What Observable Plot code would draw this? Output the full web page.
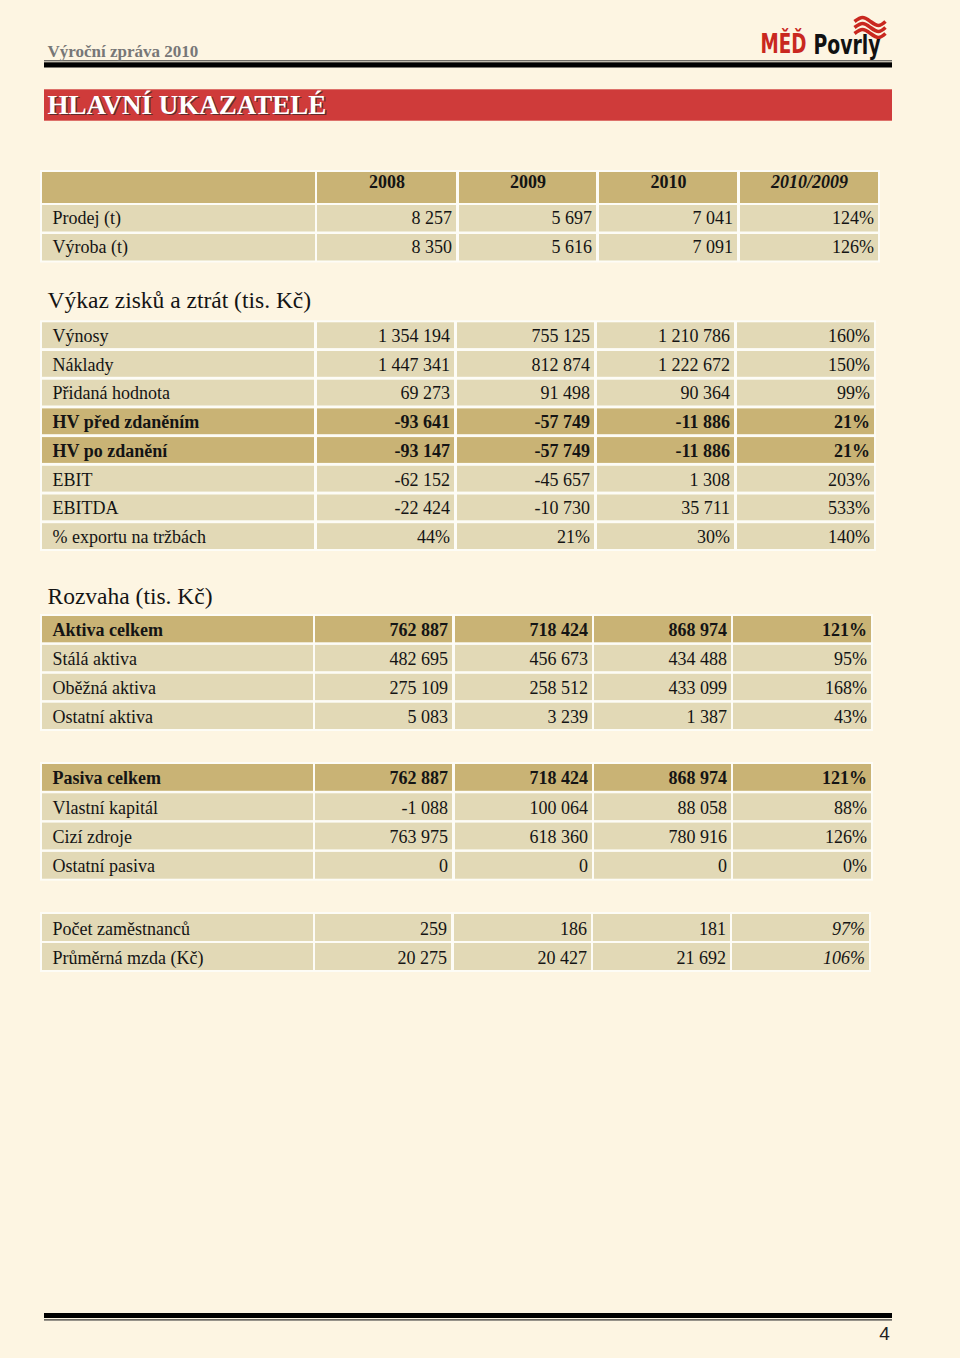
<!DOCTYPE html>
<html><head><meta charset="utf-8">
<script src="https://cdn.jsdelivr.net/npm/d3@7"></script>
<script src="https://cdn.jsdelivr.net/npm/@observablehq/plot@0.6"></script>
<style>
html,body{margin:0;padding:0;background:#fdf5e2;}
#chart svg{display:block;}
</style></head><body><div id="chart"></div>
<script>
// ---------- DATA ----------
const pageHeader = "Výroční zpráva 2010";
const pageTitle = "HLAVNÍ UKAZATELÉ";
const logoRed = "MĚĎ";
const logoBlack = "Povrly";
const pageNumber = "4";
const years = ["2008", "2009", "2010", "2010/2009"];

const prodLabels = ["Prodej (t)", "Výroba (t)"];
const prod2008 = [8257, 8350];
const prod2009 = [5697, 5616];
const prod2010 = [7041, 7091];
const prodRatio = [124, 126];

const pnlTitle = "Výkaz zisků a ztrát (tis. Kč)";
const pnlLabels = ["Výnosy", "Náklady", "Přidaná hodnota", "HV před zdaněním", "HV po zdanění", "EBIT", "EBITDA"];
const pnl2008 = [1354194, 1447341, 69273, -93641, -93147, -62152, -22424];
const pnl2009 = [755125, 812874, 91498, -57749, -57749, -45657, -10730];
const pnl2010 = [1210786, 1222672, 90364, -11886, -11886, 1308, 35711];
const pnlRatio = [160, 150, 99, 21, 21, 203, 533];
const pnlBold = ["HV před zdaněním", "HV po zdanění"];
const exportLabel = "% exportu na tržbách";
const exportShare = [44, 21, 30, 140];

const bsTitle = "Rozvaha (tis. Kč)";
const assetLabels = ["Aktiva celkem", "Stálá aktiva", "Oběžná aktiva", "Ostatní aktiva"];
const asset2008 = [762887, 482695, 275109, 5083];
const asset2009 = [718424, 456673, 258512, 3239];
const asset2010 = [868974, 434488, 433099, 1387];
const assetRatio = [121, 95, 168, 43];

const liabLabels = ["Pasiva celkem", "Vlastní kapitál", "Cizí zdroje", "Ostatní pasiva"];
const liab2008 = [762887, -1088, 763975, 0];
const liab2009 = [718424, 100064, 618360, 0];
const liab2010 = [868974, 88058, 780916, 0];
const liabRatio = [121, 88, 126, 0];

const staffLabels = ["Počet zaměstnanců", "Průměrná mzda (Kč)"];
const staff2008 = [259, 20275];
const staff2009 = [186, 20427];
const staff2010 = [181, 21692];
const staffRatio = [97, 106];

// ---------- LAYOUT / STYLE ----------
const C = {page: "#fdf5e2", tan: "#c9b375", row: "#e2d9b6", red: "#cf3b3a", logoRed: "#c9281f", ink: "#141414"};
const SERIF = "Liberation Serif, Times New Roman, serif";
const loc = d3.formatLocale({decimal: ",", thousands: " ", grouping: [3], currency: ["", ""], minus: "-"});
const num = loc.format(",d");
const pct = v => `${v}%`;

const cells = [];
const texts = [];
const tableBgs = [];

function table(spec) {
  const {cols, top, pitch, h, rows, header, baseOff} = spec;
  if (header) {
    const y1 = header.top, y2 = header.top + header.h;
    cols.forEach((c, j) => {
      cells.push({x1: c[0], x2: c[1], y1, y2, fill: C.tan});
      if (j > 0) texts.push({x: (c[0] + c[1]) / 2, y: y1 + header.base, t: years[j - 1], k: j === 4 ? "bim" : "bm"});
    });
  }
  rows.forEach((r, ri) => {
    const y1 = top + ri * pitch, y2 = y1 + h;
    cols.forEach((c, j) => {
      cells.push({x1: c[0], x2: c[1], y1, y2, fill: r.bold ? C.tan : C.row});
      const w = r.bold ? "b" : "r";
      if (j === 0) texts.push({x: 52, y: y1 + baseOff, t: r.label, k: w + "s"});
      else texts.push({x: c[1] - 4.5, y: y1 + baseOff, t: r.values[j - 1], k: (j === 4 && r.italicLast ? "i" : w) + "e"});
    });
  });
  const lastBottom = top + (rows.length - 1) * pitch + h;
  tableBgs.push({x1: cols[0][0] - 2, x2: cols[4][1] + 2, y1: (header ? header.top : top) - 2, y2: lastBottom + 2});
}

const rowOf = (labels, a, b, c, r, opts = {}) => labels.map((l, i) => ({
  label: l,
  values: [num(a[i]), num(b[i]), num(c[i]), pct(r[i])],
  bold: (opts.bold || []).includes(l),
  italicLast: !!opts.italicLast
}));

table({
  cols: [[42, 315], [317, 456], [459, 596], [599, 737], [740, 878]],
  header: {top: 172, h: 31, base: 15.5},
  top: 205, pitch: 29, h: 26.5, baseOff: 18.5,
  rows: rowOf(prodLabels, prod2008, prod2009, prod2010, prodRatio)
});

const pnlRows = rowOf(pnlLabels, pnl2008, pnl2009, pnl2010, pnlRatio, {bold: pnlBold});
pnlRows.push({label: exportLabel, values: exportShare.map(pct), bold: false});
table({
  cols: [[42, 314], [317, 454], [457, 594], [597, 734], [737, 874]],
  top: 322.3, pitch: 28.7, h: 25.8, baseOff: 19.2,
  rows: pnlRows
});

table({
  cols: [[42, 313], [315, 452], [455, 592], [594, 731], [733, 871]],
  top: 616, pitch: 28.9, h: 26.3, baseOff: 19.5,
  rows: rowOf(assetLabels, asset2008, asset2009, asset2010, assetRatio, {bold: ["Aktiva celkem"]})
});

table({
  cols: [[42, 313], [315, 452], [455, 592], [594, 731], [733, 871]],
  top: 764, pitch: 29.3, h: 26.8, baseOff: 19.8,
  rows: rowOf(liabLabels, liab2008, liab2009, liab2010, liabRatio, {bold: ["Pasiva celkem"]})
});

table({
  cols: [[42, 313], [315, 451], [454, 591], [593, 730], [732, 869]],
  top: 914, pitch: 29, h: 27, baseOff: 20,
  rows: rowOf(staffLabels, staff2008, staff2009, staff2010, staffRatio, {italicLast: true})
});

const sectionTitles = [{x: 47, y: 307.5, t: pnlTitle}, {x: 47, y: 603, t: bsTitle}];

const textStyles = {
  rs: {textAnchor: "start", fontWeight: "normal", fontStyle: "normal"},
  re: {textAnchor: "end", fontWeight: "normal", fontStyle: "normal"},
  bs: {textAnchor: "start", fontWeight: "bold", fontStyle: "normal"},
  be: {textAnchor: "end", fontWeight: "bold", fontStyle: "normal"},
  bm: {textAnchor: "middle", fontWeight: "bold", fontStyle: "normal"},
  bim: {textAnchor: "middle", fontWeight: "bold", fontStyle: "italic"},
  ie: {textAnchor: "end", fontWeight: "normal", fontStyle: "italic"}
};

const rules = [
  {x1: 44, x2: 892, y1: 60.3, y2: 61.3, fill: "#333"},
  {x1: 44, x2: 892, y1: 62.3, y2: 67.5, fill: "#000"},
  {x1: 44, x2: 892, y1: 1313, y2: 1318, fill: "#000"},
  {x1: 44, x2: 892, y1: 1319.3, y2: 1320.5, fill: "#333"}
];
const banner = [{x1: 44, x2: 892, y1: 89.3, y2: 120.7}];

// logo emblem: three red wavy stripes (decoration)
const waveShape = [[0, 4], [8, 0], [16, 4], [24, 8], [31, 4]];
const waves = [0, 1, 2].flatMap(k => waveShape.map(([dx, dy]) => ({x: 854 + dx, y: 17 + k * 6 + dy, s: k})));

const rectOpts = {x1: "x1", x2: "x2", y1: "y1", y2: "y2"};
const marks = [
  Plot.rect(rules, {...rectOpts, fill: "fill"}),
  Plot.rect(banner, {...rectOpts, fill: C.red}),
  Plot.rect(tableBgs, {...rectOpts, fill: "#fdfcf6"}),
  Plot.rect(cells, {...rectOpts, fill: "fill"}),
  ...Object.entries(textStyles).map(([k, st]) =>
    Plot.text(texts.filter(d => d.k === k), {x: "x", y: "y", text: "t", lineAnchor: "bottom", fontSize: 18, fontFamily: SERIF, fill: C.ink, ...st})),
  Plot.text(sectionTitles, {x: "x", y: "y", text: "t", lineAnchor: "bottom", textAnchor: "start", fontSize: 23.5, fontFamily: SERIF, fill: C.ink}),
  Plot.text([{x: 47, y: 56, t: pageHeader}], {x: "x", y: "y", text: "t", lineAnchor: "bottom", textAnchor: "start", fontSize: 17, fontWeight: "bold", fontFamily: SERIF, fill: "#777"}),
  Plot.text([{x: 48.4, y: 114.4, t: pageTitle}], {x: "x", y: "y", text: "t", lineAnchor: "bottom", textAnchor: "start", fontSize: 27, fontWeight: "bold", fontFamily: SERIF, fill: "#4a2a2a", fillOpacity: 0.85}),
  Plot.text([{x: 47, y: 113, t: pageTitle}], {x: "x", y: "y", text: "t", lineAnchor: "bottom", textAnchor: "start", fontSize: 27, fontWeight: "bold", fontFamily: SERIF, fill: "#fff"}),
  Plot.line(waves, {x: "x", y: "y", z: "s", curve: "natural", stroke: C.logoRed, strokeWidth: 3.6, strokeLinecap: "butt"}),
  Plot.text([{x: 760, y: 52, t: logoRed}], {x: "x", y: "y", text: "t", lineAnchor: "bottom", textAnchor: "start", fontSize: 26, fontWeight: "bold", fontFamily: "DejaVu Sans Condensed, DejaVu Sans, sans-serif", fill: C.logoRed, className: "logo-red"}),
  Plot.text([{x: 813, y: 53, t: logoBlack}], {x: "x", y: "y", text: "t", lineAnchor: "bottom", textAnchor: "start", fontSize: 26, fontWeight: "bold", fontFamily: "DejaVu Sans Condensed, DejaVu Sans, sans-serif", fill: "#111", className: "logo-black"}),
  Plot.text([{x: 884, y: 1339, t: pageNumber}], {x: "x", y: "y", text: "t", lineAnchor: "bottom", textAnchor: "middle", fontSize: 19, fontFamily: "Liberation Sans Narrow, Liberation Sans, sans-serif", fill: "#222"})
];

const svg = Plot.plot({
  width: 960, height: 1358,
  margin: 0,
  x: {type: "identity", axis: null},
  y: {type: "identity", axis: null},
  style: {background: C.page, overflow: "visible"},
  marks
});

d3.select(svg).selectAll(".logo-red text").attr("textLength", 46).attr("lengthAdjust", "spacingAndGlyphs");
d3.select(svg).selectAll(".logo-black text").attr("textLength", 67).attr("lengthAdjust", "spacingAndGlyphs");
document.getElementById("chart").appendChild(svg);
</script></body></html>
